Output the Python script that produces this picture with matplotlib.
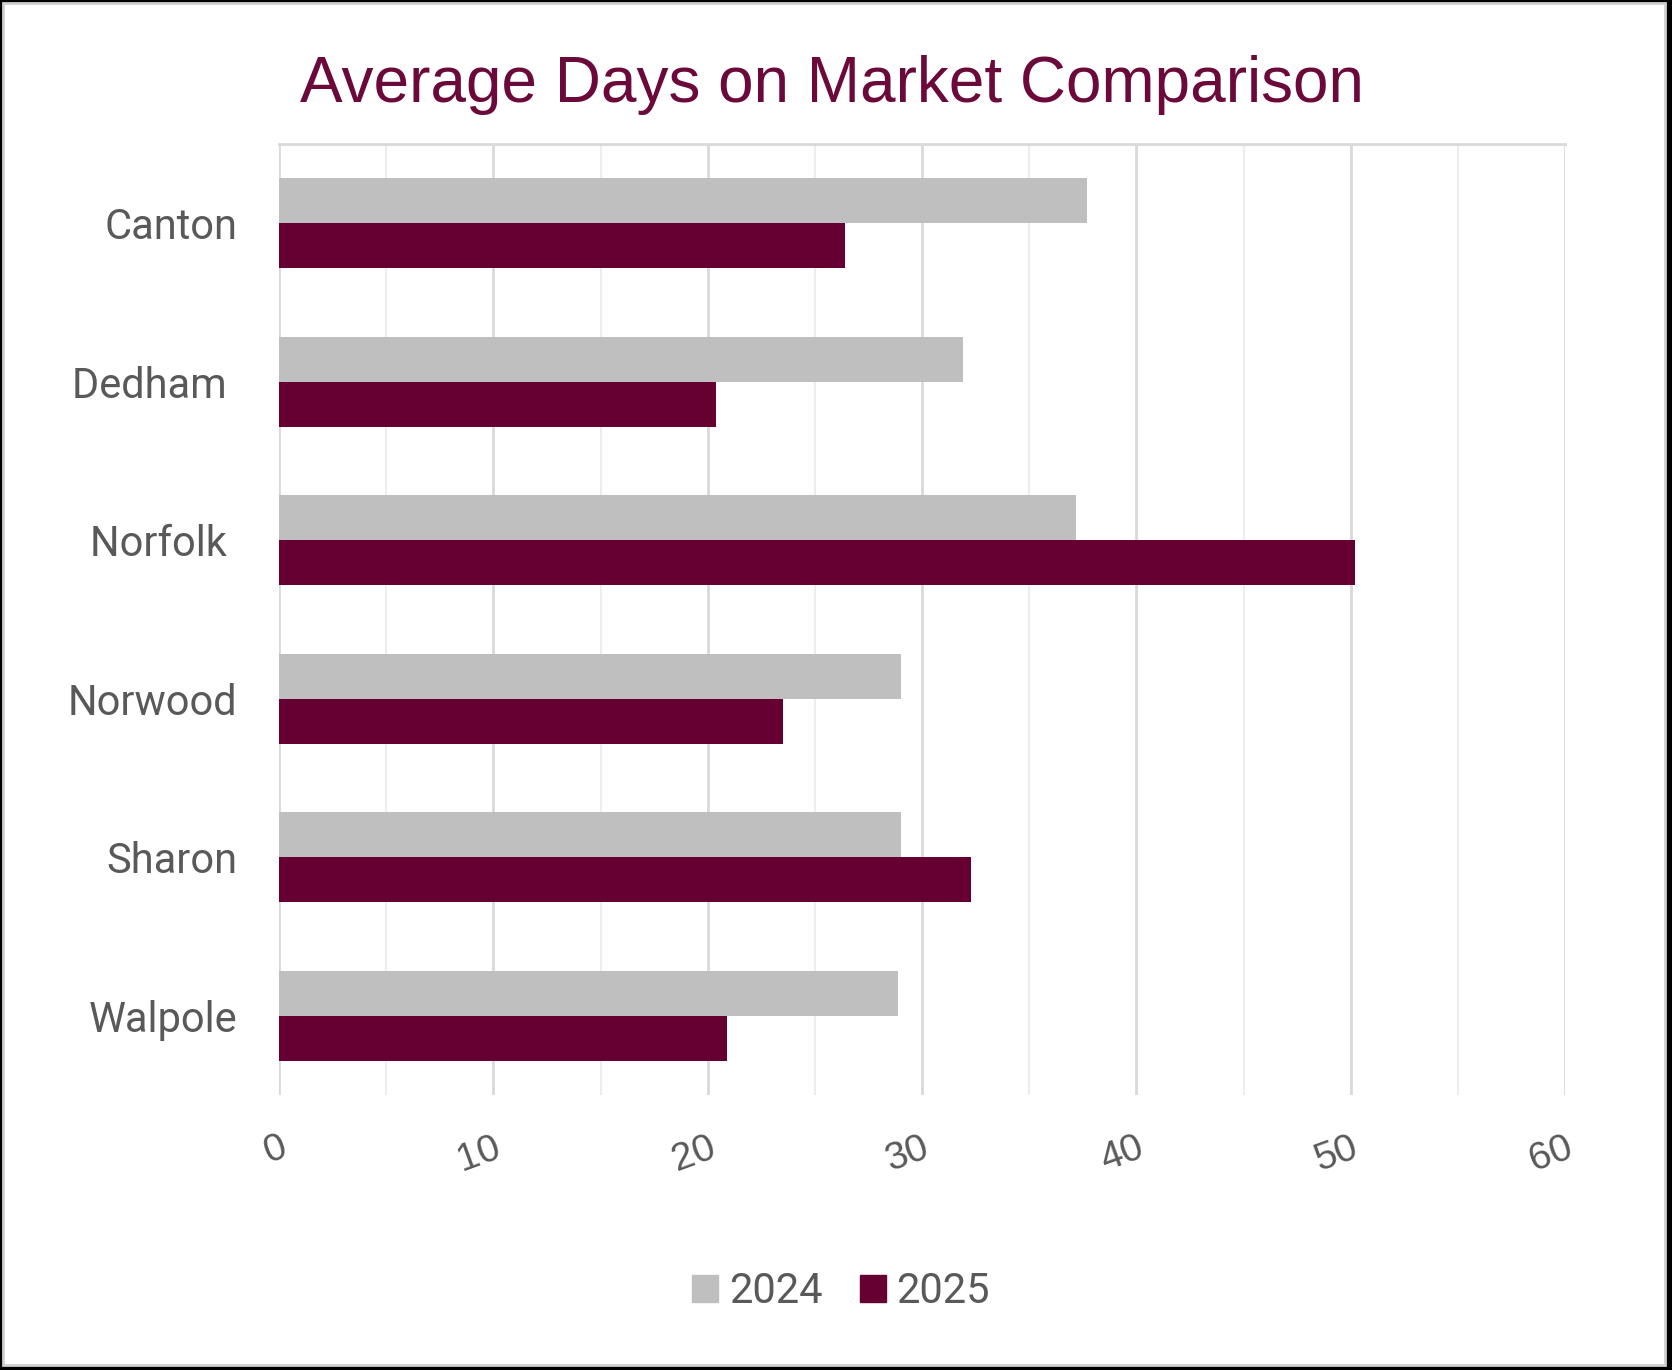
import matplotlib.pyplot as plt
import numpy as np
from matplotlib import ticker
from matplotlib.patches import Patch, Rectangle

# Data
towns = ["Canton", "Dedham ", "Norfolk ", "Norwood", "Sharon", "Walpole"]
days_2024 = [37.7, 31.9, 37.2, 29.0, 29.0, 28.9]
days_2025 = [26.4, 20.4, 50.2, 23.5, 32.3, 20.9]
series_labels = ["2024", "2025"]
x_ticks = [0, 10, 20, 30, 40, 50, 60]

GREY = "#BFBFBF"
MAROON = "#660033"
TEXT = "#595959"


def main() -> None:
    fig = plt.figure(figsize=(16.72, 13.70), dpi=100, facecolor="black")

    # White card with a thin light border (behind the axes)
    fig.patches.append(
        Rectangle(
            (3 / 1672, 5 / 1370),
            1662 / 1672,
            1362 / 1370,
            transform=fig.transFigure,
            facecolor="white",
            edgecolor="#D0D0D0",
            linewidth=2,
            zorder=-1,
        )
    )

    ax = fig.add_axes([0.1669, 0.2007, 0.7691, 0.6942])
    ax.set_facecolor("none")

    y = np.arange(len(towns))
    h = 0.284
    ax.barh(y - h / 2, days_2024, height=h, color=GREY, zorder=3)
    ax.barh(y + h / 2, days_2025, height=h, color=MAROON, zorder=3)

    ax.set_xlim(0, 60)
    ax.set_ylim(len(towns) - 0.5, -0.5)

    ax.set_yticks(y)
    ax.set_yticklabels(towns, fontfamily="Roboto", fontsize=30, color=TEXT)

    ax.set_xticks(x_ticks)
    ax.set_xticklabels(
        [str(v) for v in x_ticks],
        fontfamily="Liberation Sans",
        fontsize=28,
        color=TEXT,
        rotation=20,
        ha="right",
        va="top",
        rotation_mode="anchor",
    )
    ax.xaxis.set_minor_locator(ticker.MultipleLocator(5))
    ax.tick_params(axis="both", which="both", length=0)
    ax.tick_params(axis="x", pad=25)
    ax.tick_params(axis="y", pad=30)

    ax.grid(axis="x", which="major", color="#D9D9D9", linewidth=2, zorder=0)
    ax.grid(axis="x", which="minor", color="#EDEDED", linewidth=1.5, zorder=0)
    ax.set_axisbelow(True)

    for side in ["left", "right", "bottom"]:
        ax.spines[side].set_visible(False)
    ax.spines["top"].set_color("#D9D9D9")
    ax.spines["top"].set_linewidth(2)

    fig.text(
        0.4976,
        0.938,
        "Average Days on Market Comparison",
        ha="center",
        va="center",
        fontfamily="Liberation Sans",
        fontsize=46,
        color="#6B0A3A",
    )

    handles = [
        Patch(facecolor=GREY, edgecolor=GREY, label=series_labels[0]),
        Patch(facecolor=MAROON, edgecolor=MAROON, label=series_labels[1]),
    ]
    fig.legend(
        handles=handles,
        loc="center",
        bbox_to_anchor=(0.503, 0.057),
        ncol=2,
        frameon=False,
        prop={"family": "Roboto", "size": 30},
        labelcolor=TEXT,
        handlelength=0.62,
        handleheight=0.62,
        handletextpad=0.26,
        columnspacing=0.9,
    )

    fig.savefig("out.png", dpi=100, facecolor=fig.get_facecolor())
    plt.close(fig)


if __name__ == "__main__":
    main()
